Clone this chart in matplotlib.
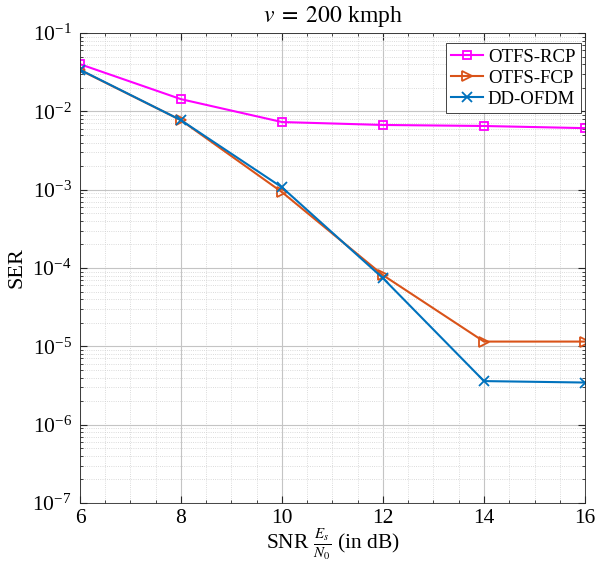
import numpy as np
import matplotlib
matplotlib.use("Agg")
import matplotlib.pyplot as plt
from matplotlib.ticker import MultipleLocator, LogLocator, NullFormatter

plt.rcParams['font.family'] = ['Liberation Serif', 'DejaVu Serif']
plt.rcParams['mathtext.fontset'] = 'stix'

snr = [6, 8, 10, 12, 14, 16]
ser_rcp = [4.0e-2, 1.43e-2, 7.3e-3, 6.7e-3, 6.5e-3, 6.1e-3]
ser_fcp = [3.37e-2, 7.7e-3, 9.3e-4, 8.1e-5, 1.15e-5, 1.15e-5]
ser_dd = [3.4e-2, 7.7e-3, 1.07e-3, 7.4e-5, 3.6e-6, 3.45e-6]

W, H = 610, 566
fig = plt.figure(figsize=(W / 100, H / 100), dpi=100)
# axes box in pixels: x 80..585, y 33..503
ax = fig.add_axes([80 / W, 1 - 503 / H, 505 / W, 470 / H])

ax.semilogy(snr, ser_rcp, color=(1, 0, 1), marker='s', mfc='none', ms=6,
            mew=1.3, lw=1.5, label='OTFS-RCP')
ax.semilogy(snr, ser_fcp, color=(0.85, 0.325, 0.098), marker='>', mfc='none',
            ms=7, mew=1.3, lw=1.5, label='OTFS-FCP')
ax.semilogy(snr, ser_dd, color=(0, 0.447, 0.741), marker='x', ms=7,
            mew=1.3, lw=1.5, label='DD-OFDM')

ax.set_xlim(6, 16)
ax.set_ylim(1e-7, 1e-1)
ax.xaxis.set_major_locator(MultipleLocator(2))
ax.xaxis.set_minor_locator(MultipleLocator(0.5))
ax.yaxis.set_major_locator(LogLocator(base=10, numticks=10))
ax.yaxis.set_minor_locator(LogLocator(base=10, subs=np.arange(2, 10), numticks=10))
ax.yaxis.set_minor_formatter(NullFormatter())

ax.grid(which='major', color='#c4c4c4', lw=0.8, ls='-')
ax.grid(which='minor', color='#cfcfcf', lw=0.6, ls=':')
ax.set_axisbelow(True)
ax.tick_params(which='both', direction='in', top=True, right=True, labelsize=15.5,
               color='#262626', pad=6)
ax.tick_params(axis='x', pad=4)
ax.tick_params(which='major', length=5)
ax.tick_params(which='minor', length=2.5)
for s in ax.spines.values():
    s.set_color('#262626')
    s.set_linewidth(0.6)

ax.set_title(r'$v\;=\;200$ kmph', fontsize=17, pad=8)
ax.set_xlabel(r'SNR $\frac{E_s}{N_0}$ (in dB)', fontsize=15.5, labelpad=-1)
ax.set_ylabel('SER', fontsize=16, labelpad=4)

leg = ax.legend(loc='upper right', bbox_to_anchor=(581 / W, 1 - 43 / H),
                bbox_transform=fig.transFigure, borderaxespad=0,
                fontsize=13.5, frameon=True, fancybox=False, framealpha=1,
                edgecolor='#262626', borderpad=0.3, labelspacing=0.2,
                handlelength=1.7, handletextpad=0.25)
leg.get_frame().set_linewidth(0.6)

fig.savefig('out.png', dpi=100)
